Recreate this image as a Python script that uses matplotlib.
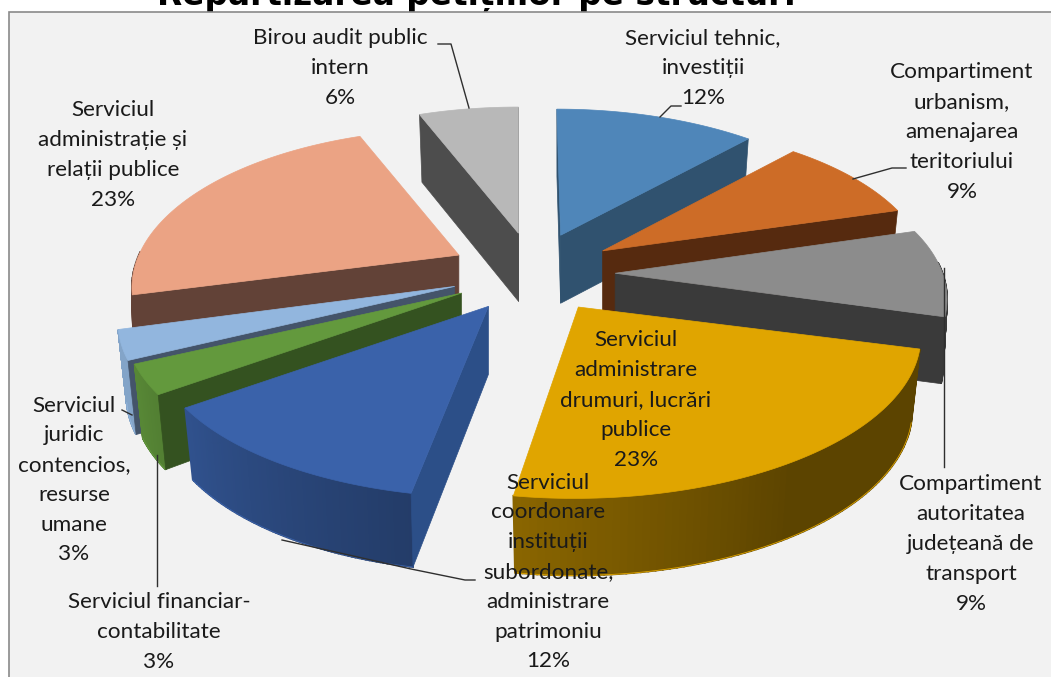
import numpy as np
import matplotlib
matplotlib.use("Agg")
import matplotlib.pyplot as plt
from matplotlib.colors import to_rgb
from matplotlib.patches import Polygon, Rectangle

plt.rcParams['font.family'] = ['Lato', 'DejaVu Sans']

# date
categorii = ["Serviciul tehnic,\ninvestiții",
             "Compartiment\nurbanism,\namenajarea\nteritoriului",
             "Compartiment\nautoritatea\njudețeană de\ntransport",
             "Serviciul\nadministrare\ndrumuri, lucrări\npublice",
             "Serviciul\ncoordonare\ninstituții\nsubordonate,\nadministrare\npatrimoniu",
             "Serviciul financiar-\ncontabilitate",
             "Serviciul\njuridic\ncontencios,\nresurse\numane",
             "Serviciul\nadministrație și\nrelații publice",
             "Birou audit public\nintern"]
valori = [12, 9, 9, 23, 12, 3, 3, 23, 6]

# culori
culori_sus = ['#4F86B9', '#CD6C27', '#8C8C8C', '#E0A500', '#3A62AA',
              '#63993D', '#92B6DE', '#EBA384', '#B8B8B8']
culori_taietura = ['#30526F', '#562A0F', '#3A3A3A', '#5B4400', '#2C4F88',
                   '#345220', '#44546A', '#624237', '#4D4D4D']

# pozitia etichetelor (centru x, centru y)
pozitii_text = [(703, 68), (962, 132), (971, 544), (636, 400), (548, 572),
                (159, 632), (74, 480), (113, 155), (340, 68)]

# linii de legatura
linii = [[(681, 106), (671, 106), (660, 117)],
         [(906, 168), (892, 168), (853, 179)],
         [(944, 268), (944, 467)],
         [(475, 580), (465, 580), (411, 569), (282, 540)],
         [(157, 455), (157, 586)],
         [(122, 410), (132, 415)],
         [(438, 44), (451, 44), (469, 108)]]

# proiectia pseudo-3D
CX, CY = 533, 273
A, B, P = 320, 152, 0.205
EXPLODE = 0.26
H0, H_P = 72, 0.12
H_APEX = 68

# corectii pe felie (perspectiva din PowerPoint nu e chiar regulata)
depl_x = [-3, -2, -1, 3, 0, 0, 0, 0, 1]
depl_y = [-1, -2, -1, 0, 0, 0, 0, 0, -1]
scara_x = [1, 1, 1.015, 1.04, 1.03, 1.03, 1.03, 1, 1]
forf_x = [0.03, 0, 0, 0.07, 0, 0, 0, 0, 0]
forf_y = [0, -0.015, -0.02, -0.025, 0, 0, -0.01, 0, 0]
scara_h = [1, 1, 0.9, 1, 0.96, 1, 1, 1, 1]
scara_jos = [0.975, 0.975, 0.988, 0.975, 0.975, 0.975, 0.975, 0.994, 0.975]


def offset(theta):
    x, y = np.sin(theta), np.cos(theta)
    d = 1 + P * y
    return A * x / d, -B * y / d


def shade(culoare, f):
    return tuple(c * f for c in to_rgb(culoare))


fig = plt.figure(figsize=(10.51, 6.77), dpi=100)
ax = fig.add_axes([0, 0, 1, 1])
ax.set_xlim(0, 1051)
ax.set_ylim(677, 0)
ax.axis('off')

ax.text(476, 5, "Repartizarea petițiilor pe structuri", ha='center', va='baseline',
        fontsize=23.6, fontweight='bold', family=['DejaVu Sans'], color='black', zorder=1)
ax.add_patch(Rectangle((8.5, 12), 1060, 680, facecolor='#F2F2F2', edgecolor='#8A8A8A', lw=1.2, zorder=2))

procente = np.array(valori, dtype=float)
limite = np.radians(np.concatenate([[0], np.cumsum(procente)]) / procente.sum() * 360)

# ordinea de desenare, din spate in fata
ordine = [8, 0, 7, 1, 2, 6, 5, 4, 3]
z = 3
for i in ordine:
    t0, t1 = limite[i], limite[i + 1]
    mid = (t0 + t1) / 2
    ox = CX + A * EXPLODE * np.sin(mid) + depl_x[i]
    oy = CY - B * EXPLODE * np.cos(mid) + depl_y[i]
    thetas = np.linspace(t0, t1, 80)
    dx, dy = offset(thetas)
    px = scara_x[i] * dx + forf_x[i] * dy
    py = dy + forf_y[i] * dx
    top = np.column_stack([ox + px, oy + py])
    h = H0 / (1 + H_P * np.cos(thetas)) * scara_h[i]
    bot = np.column_stack([ox + px * scara_jos[i], oy + py * scara_jos[i] + h])
    ap_top = (ox, oy)
    ap_bot = (ox, oy + H_APEX)

    # peretele exterior, cu degrade
    vizibil = np.cos(thetas) < 0.03
    for k in range(len(thetas) - 1):
        tm = (thetas[k] + thetas[k + 1]) / 2
        if np.cos(tm) < 0.03:
            f = np.clip(0.41 + (np.degrees(tm) - 150) * 0.005, 0.41, 0.9)
            c = shade(culori_sus[i], f)
            if i == 7:
                c = culori_taietura[i]
            ax.add_patch(Polygon([top[k], top[k + 1], bot[k + 1], bot[k]], fc=c, ec=c, lw=1.3, zorder=z))
    z += 1
    if vizibil.sum() > 1 and i not in (2, 7):
        ax.plot(bot[vizibil, 0], bot[vizibil, 1], color=culori_sus[i], lw=0.6, zorder=z)
    z += 1

    # fete taiate
    if np.cos(t0 - np.pi / 2) < 0.01:
        ax.add_patch(Polygon([ap_top, top[0], bot[0], ap_bot], fc=culori_taietura[i],
                             ec=culori_taietura[i], lw=0.5, zorder=z))
        z += 1
    if np.cos(t1 + np.pi / 2) < 0.01:
        ax.add_patch(Polygon([ap_top, top[-1], bot[-1], ap_bot], fc=culori_taietura[i],
                             ec=culori_taietura[i], lw=0.5, zorder=z))
        z += 1

    # fata de sus
    ax.add_patch(Polygon(np.vstack([[ap_top], top]), fc=culori_sus[i], ec=culori_sus[i], lw=0.5, zorder=z))
    z += 1

for linie in linii:
    xs, ys = zip(*linie)
    ax.plot(xs, ys, color='#2F2F2F', lw=1, zorder=z)

for nume, val, (x, y) in zip(categorii, valori, pozitii_text):
    ax.text(x, y, f"{nume}\n{val}%", ha='center', va='center', ma='center',
            fontsize=16.2, color='#1A1A1A', linespacing=1.61, zorder=z + 1)

fig.savefig("out.png", dpi=100)
